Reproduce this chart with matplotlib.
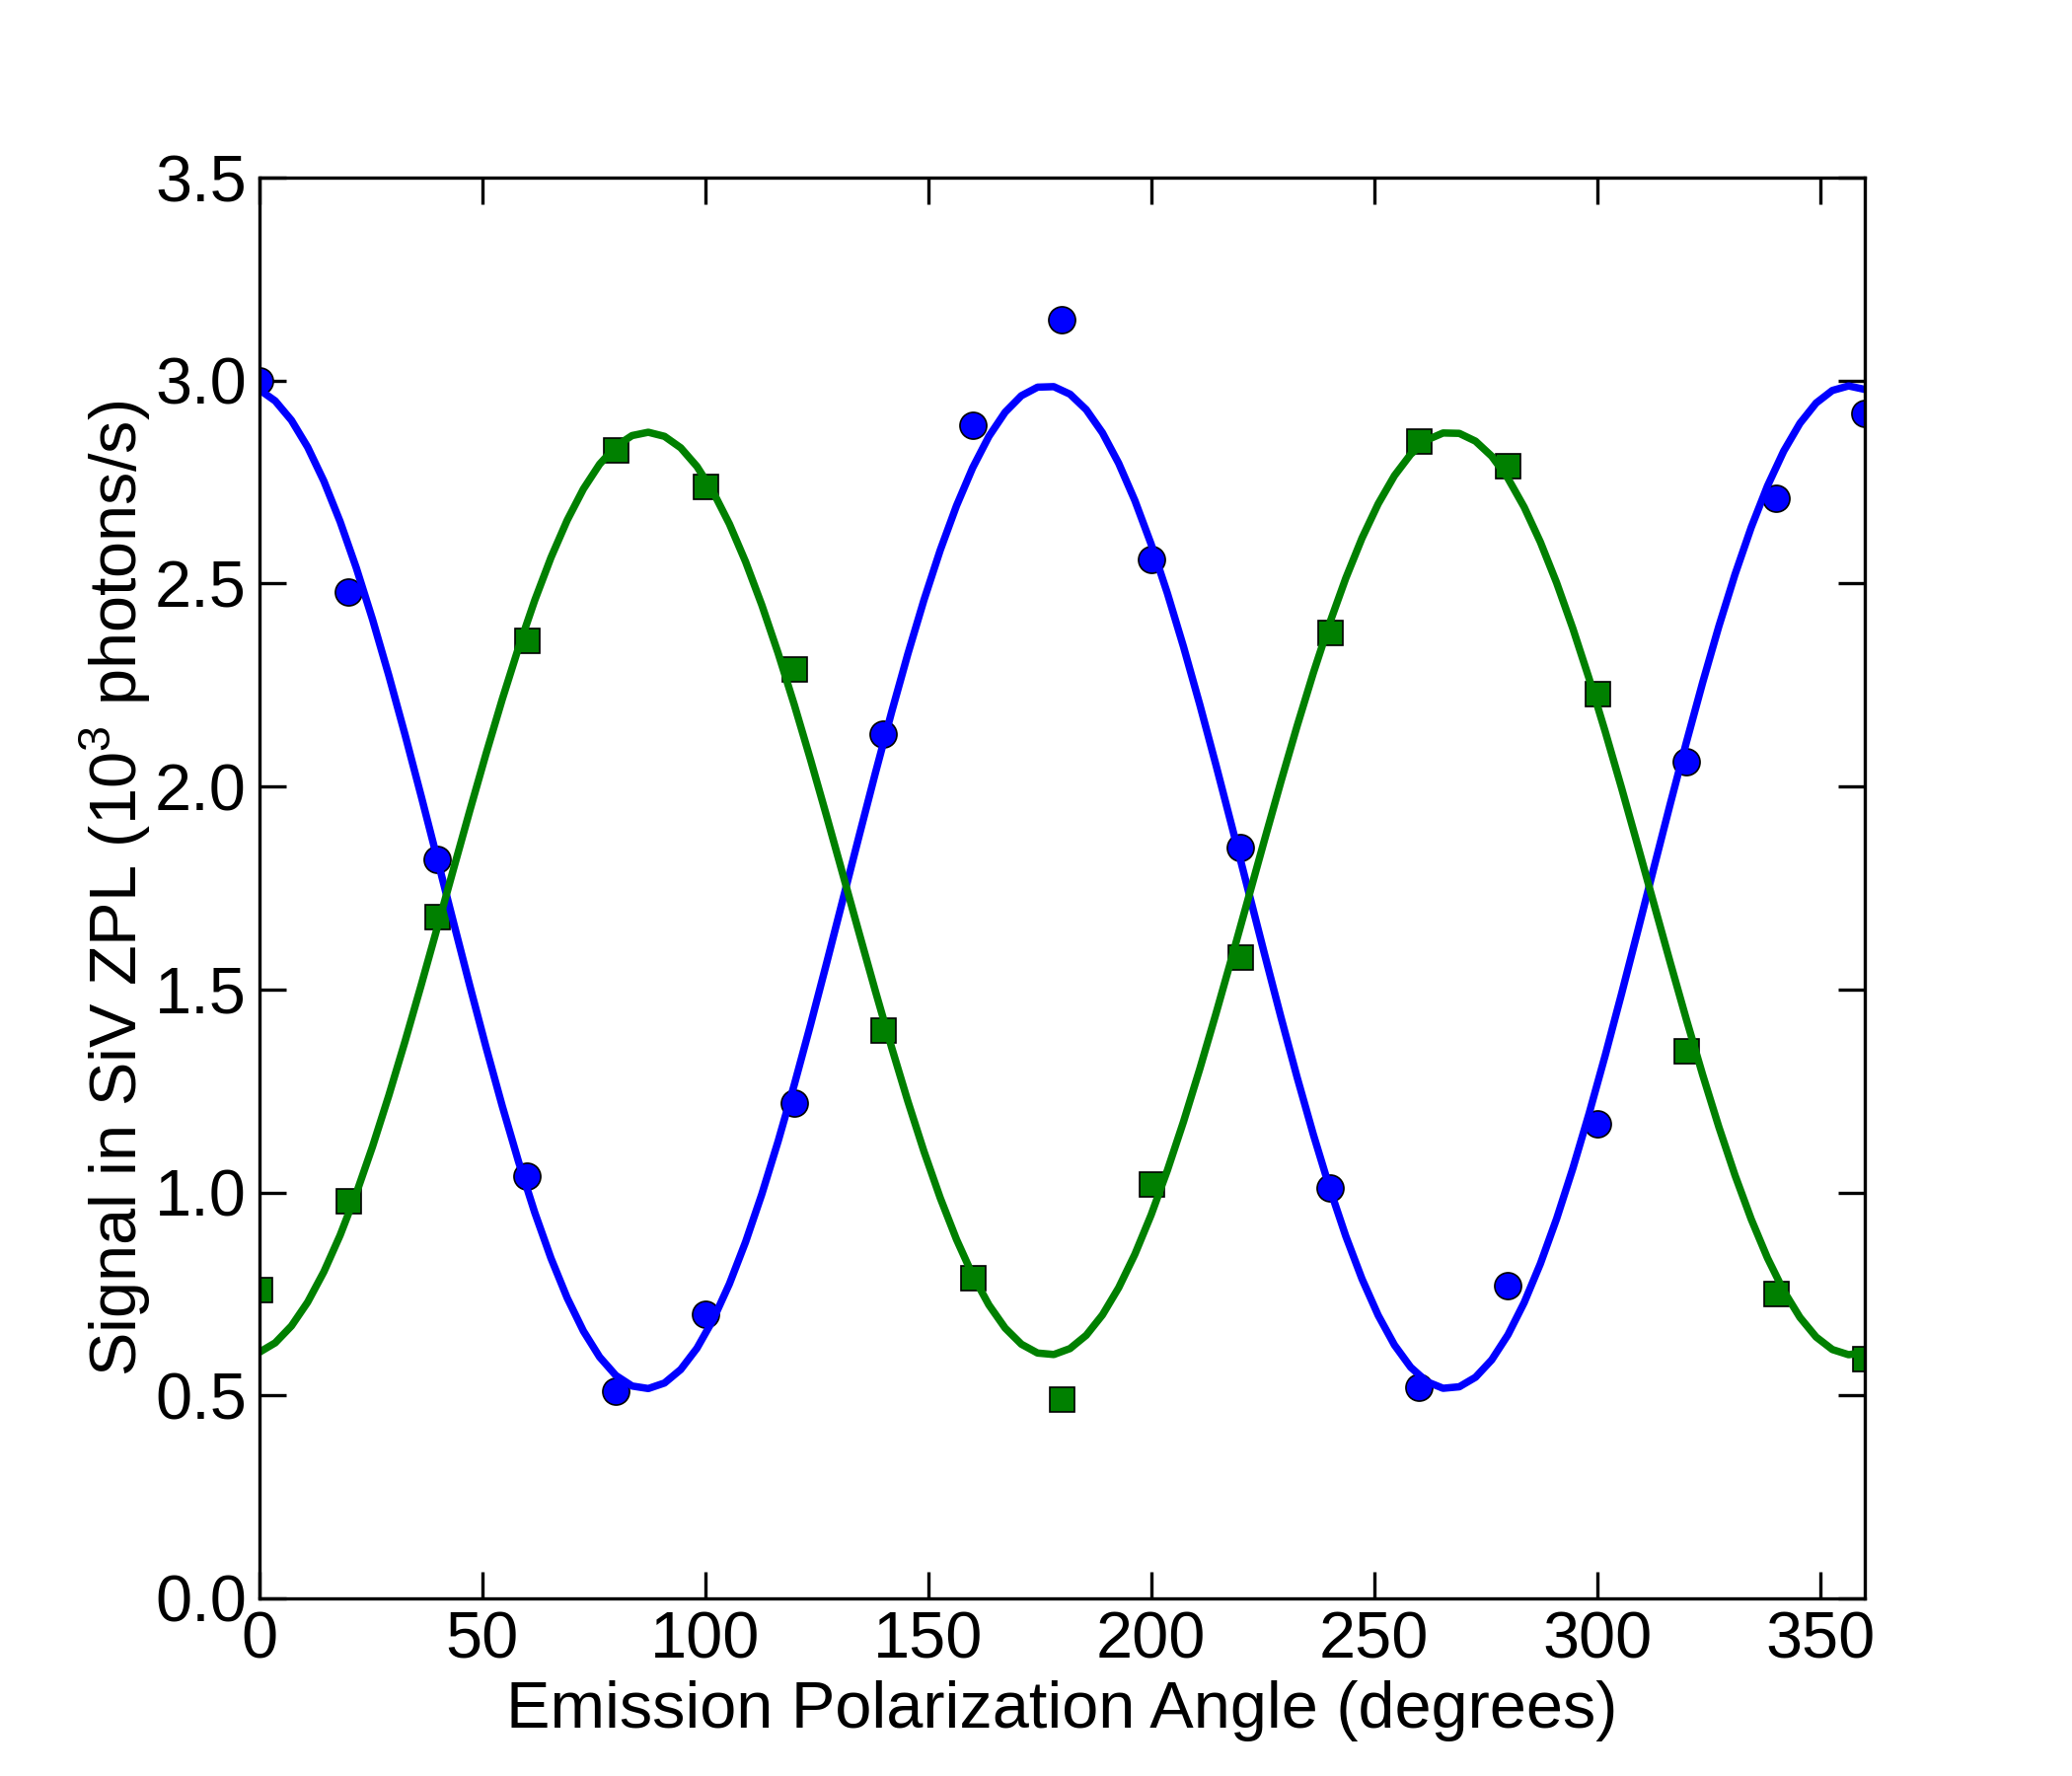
import matplotlib
matplotlib.use("Agg")
import matplotlib.pyplot as plt
import numpy as np

plt.rcParams['font.family'] = ['Liberation Sans', 'DejaVu Sans']
plt.rcParams['mathtext.fontset'] = 'custom'
plt.rcParams['mathtext.rm'] = 'Liberation Sans'

# Measured emission signal vs polarizer angle (10^3 photons/s)
angles = [0, 20, 40, 60, 80, 100, 120, 140, 160, 180,
          200, 220, 240, 260, 280, 300, 320, 340, 360]
signalBlue = [3.00, 2.48, 1.82, 1.04, 0.51, 0.70, 1.22, 2.13, 2.89, 3.15,
              2.56, 1.85, 1.01, 0.52, 0.77, 1.17, 2.06, 2.71, 2.92]
signalGreen = [0.76, 0.98, 1.68, 2.36, 2.83, 2.74, 2.29, 1.40, 0.79, 0.49,
               1.02, 1.58, 2.38, 2.85, 2.79, 2.23, 1.35, 0.75, 0.59]


def fit_cos2(theta, y):
    # Least squares fit of y = a + b*cos(2 theta) + c*sin(2 theta)
    t = np.radians(np.asarray(theta, dtype=float))
    M = np.column_stack([np.ones_like(t), np.cos(2 * t), np.sin(2 * t)])
    coef, _, _, _ = np.linalg.lstsq(M, np.asarray(y, dtype=float), rcond=None)
    return coef


def eval_cos2(coef, theta):
    t = np.radians(theta)
    return coef[0] + coef[1] * np.cos(2 * t) + coef[2] * np.sin(2 * t)


fitAngles = np.linspace(0, 360, 100)
coefBlue = fit_cos2(angles, signalBlue)
coefGreen = fit_cos2(angles, signalGreen)

fig = plt.figure(figsize=(7, 6), dpi=300)
ax = fig.add_subplot(111)
fig.subplots_adjust(left=0.125, right=0.9, bottom=0.1, top=0.9)

markersize = 6.5
fontsize = 16

# Data points
ax.plot(angles, signalBlue, 'o', color=(0, 0, 1), markersize=markersize,
        markeredgecolor='black', markeredgewidth=0.4)
ax.plot(angles, signalGreen, 's', color=(0, 0.5, 0), markersize=markersize - 0.5,
        markeredgecolor='black', markeredgewidth=0.4)
# Fits
ax.plot(fitAngles, eval_cos2(coefBlue, fitAngles), '-', color=(0, 0, 1), linewidth=1.8)
ax.plot(fitAngles, eval_cos2(coefGreen, fitAngles), '-', color=(0, 0.5, 0), linewidth=1.8)

ax.set_xlim(0, 360)
ax.set_ylim(0, 3.5)
ax.set_xticks(np.arange(0, 351, 50))
ax.set_yticks(np.arange(0, 3.51, 0.5))
ax.set_yticklabels(["%.1f" % v for v in np.arange(0, 3.51, 0.5)])

ax.tick_params(axis='both', which='major', direction='in', length=6.5, width=0.8,
               top=True, right=True, labelsize=fontsize, pad=3)
for spine in ax.spines.values():
    spine.set_linewidth(0.8)

ax.set_xlabel("Emission Polarization Angle (degrees)", fontsize=fontsize, labelpad=2)
ax.set_ylabel("Signal in SiV ZPL (10$^3$ photons/s)", fontsize=fontsize, labelpad=0.5)

plt.savefig("out.png", dpi=300)
plt.close()
